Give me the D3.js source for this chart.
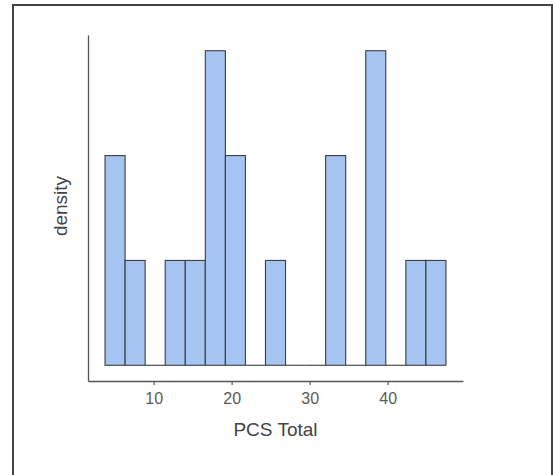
<!DOCTYPE html>
<html>
<head>
<meta charset="utf-8">
<script src="https://cdn.jsdelivr.net/npm/d3@7"></script>
<style>
  html, body { margin: 0; padding: 0; background: #fff; }
  svg { display: block; font-family: "Liberation Sans", Arial, sans-serif; }
</style>
</head>
<body>
<svg id="chart" width="553" height="475"></svg>
<script>
// Histogram bins of PCS Total (bin start value, bin width, counts per bin)
const binStart = 3.77;
const binWidth = 2.571;
const binCounts = [2, 1, 0, 1, 1, 3, 2, 0, 1, 0, 0, 2, 0, 3, 0, 1, 1];
const xTicks = [10, 20, 30, 40];
const xLabel = "PCS Total";
const yLabel = "density";

const svg = d3.select("#chart");

// outer frame
svg.append("rect")
  .attr("x", 13).attr("y", 5)
  .attr("width", 539).attr("height", 480)
  .attr("fill", "none").attr("stroke", "#444").attr("stroke-width", 2);

const total = d3.sum(binCounts);
const bins = binCounts.map((c, i) => ({
  x0: binStart + i * binWidth,
  x1: binStart + (i + 1) * binWidth,
  d: c / (total * binWidth)
}));
const maxD = d3.max(bins, b => b.d);
const xMin = binStart, xMax = binStart + binCounts.length * binWidth;
const xPad = (xMax - xMin) * 0.05;

const x = d3.scaleLinear().domain([xMin - xPad, xMax + xPad]).range([88, 463]);
const y = d3.scaleLinear().domain([-maxD * 0.05, maxD * 1.05]).range([381, 35]);

// bars
svg.append("g").selectAll("rect").data(bins.filter(b => b.d > 0)).join("rect")
  .attr("x", b => x(b.x0))
  .attr("width", b => x(b.x1) - x(b.x0))
  .attr("y", b => y(b.d))
  .attr("height", b => y(0) - y(b.d))
  .attr("fill", "#a5c4f1")
  .attr("stroke", "#3d3d3d")
  .attr("stroke-width", 1.1);

// empty bins drawn as outline at baseline
svg.append("g").selectAll("line").data(bins.filter(b => b.d === 0)).join("line")
  .attr("x1", b => x(b.x0)).attr("x2", b => x(b.x1))
  .attr("y1", y(0)).attr("y2", y(0))
  .attr("stroke", "#3d3d3d")
  .attr("stroke-width", 1.1);

// x axis
const xAxis = svg.append("g").attr("transform", "translate(0,381)")
  .call(d3.axisBottom(x).tickValues(xTicks).tickSize(4).tickSizeOuter(0).tickPadding(8).tickFormat(d3.format("d")));
xAxis.select(".domain").attr("stroke", "#555").attr("stroke-width", 1.3);
xAxis.selectAll(".tick line").attr("stroke", "#555").attr("stroke-width", 1.2);
xAxis.selectAll(".tick text").attr("fill", "#5a5a5a")
  .style("font-size", "16px")
  .style("font-family", "'Liberation Sans', Arial, sans-serif");

// y axis (line only)
const yAxis = svg.append("g").attr("transform", "translate(88,0)")
  .call(d3.axisLeft(y).tickValues([]).tickSizeOuter(0));
yAxis.select(".domain").attr("stroke", "#555").attr("stroke-width", 1.3);

// axis titles
svg.append("text")
  .attr("x", 275.5).attr("y", 436)
  .attr("text-anchor", "middle")
  .attr("font-size", 19).attr("fill", "#444")
  .text(xLabel);

svg.append("text")
  .attr("transform", "translate(67,206) rotate(-90)")
  .attr("text-anchor", "middle")
  .attr("font-size", 19).attr("fill", "#444")
  .text(yLabel);
</script>
</body>
</html>
